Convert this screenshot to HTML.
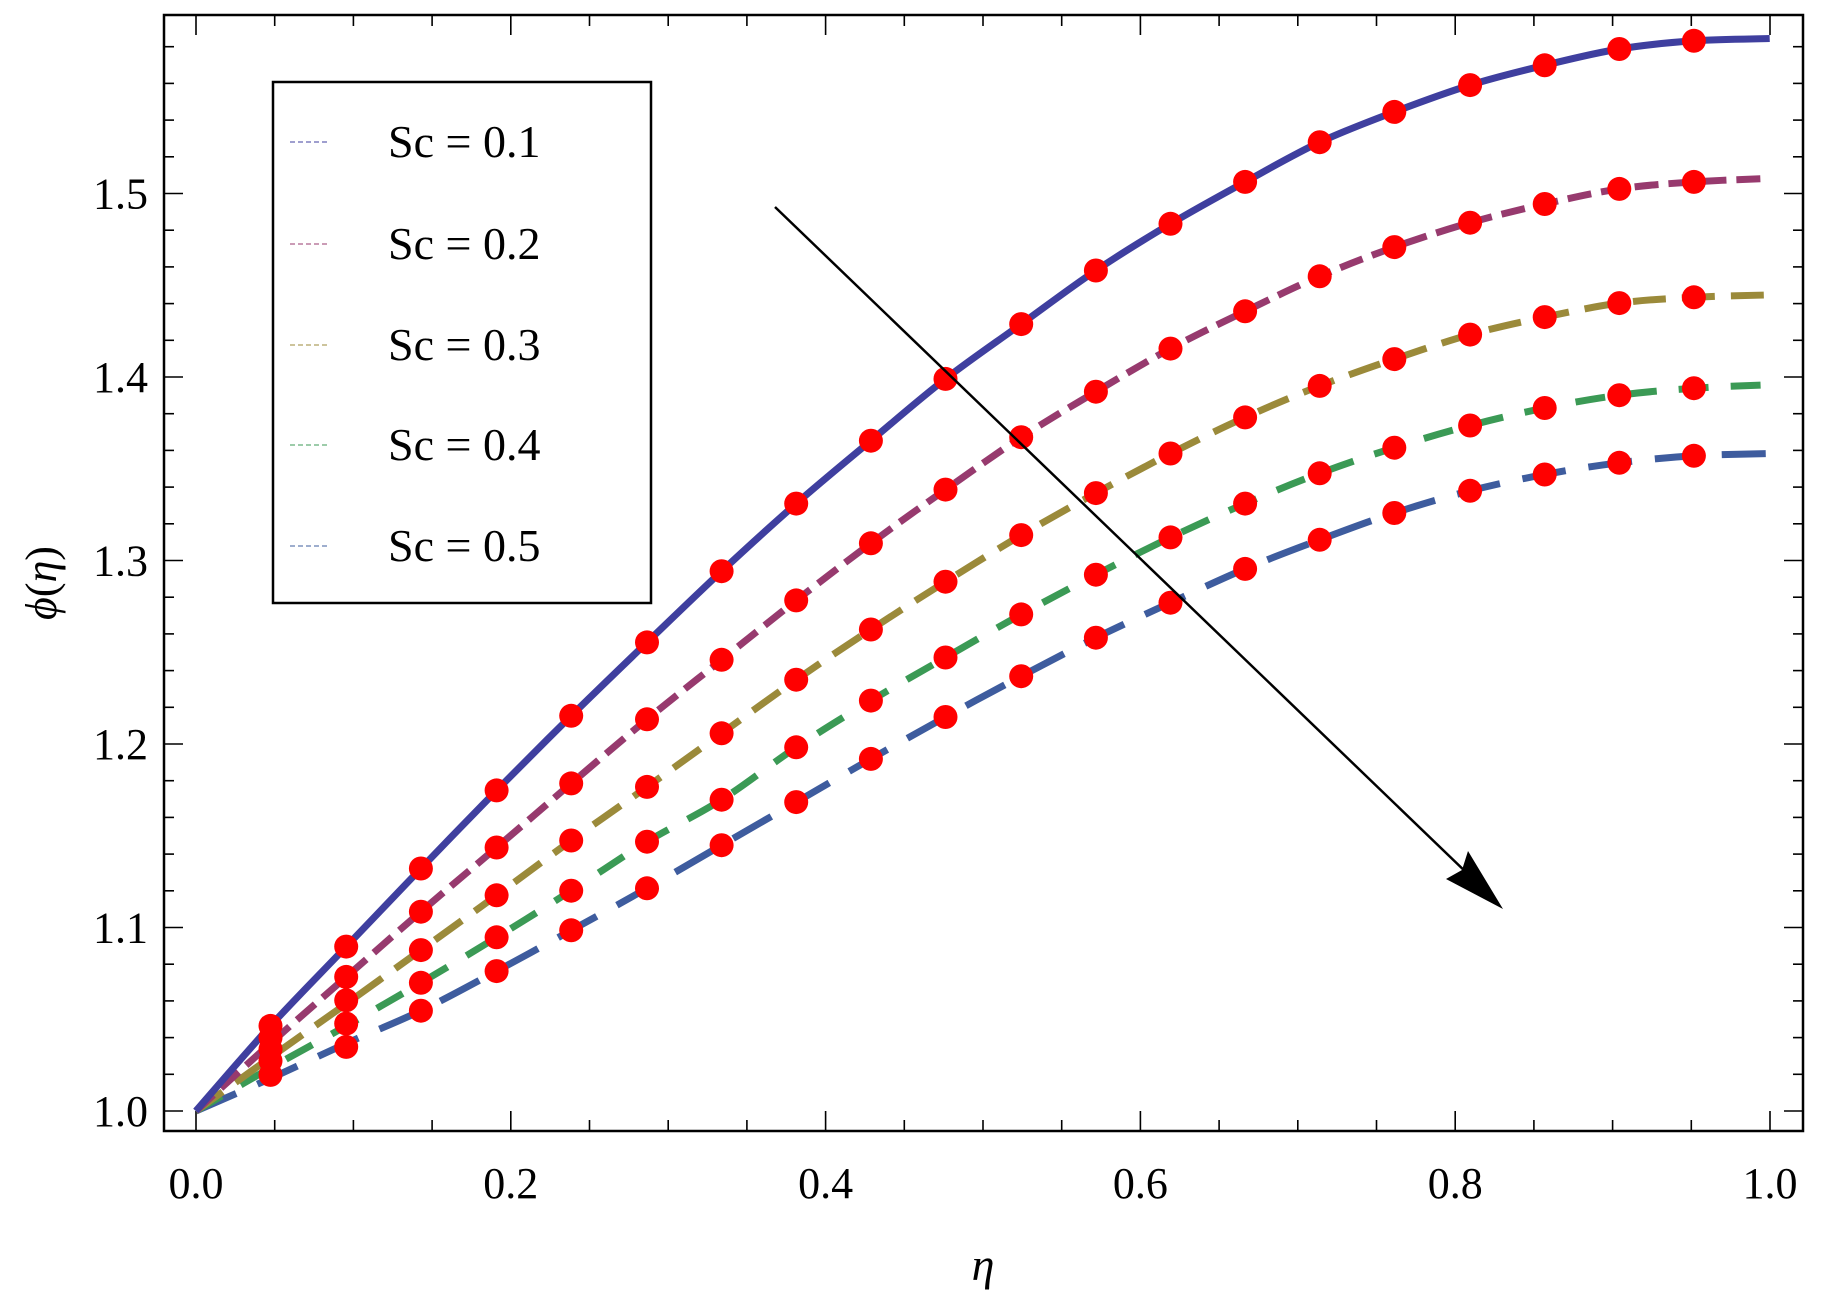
<!DOCTYPE html>
<html><head><meta charset="utf-8"><style>
html,body{margin:0;padding:0;background:#fff;}
svg{display:block;}
text{font-family:"Liberation Serif",serif;fill:#000;}
</style></head><body>
<svg id="s" width="1828" height="1315" viewBox="0 0 1828 1315" xmlns="http://www.w3.org/2000/svg"></svg>
<script>
const s=document.getElementById('s');
const X0=196,XS=1574,Y0=1111,YS=1835,K=1.1658;
const px=e=>X0+e*XS, py=v=>Y0-(v-1)*YS;
let h='';
h+='<rect x="164" y="15" width="1639" height="1116" fill="none" stroke="#000" stroke-width="2.5"/>';
for(let i=0;i<=20;i++){const e=i*0.05,x=px(e),L=(i%4==0)?20:11;
 h+=`<line x1="${x}" y1="1131" x2="${x}" y2="${1131-L}" stroke="#000" stroke-width="1.6"/>`;
 h+=`<line x1="${x}" y1="15" x2="${x}" y2="${15+L}" stroke="#000" stroke-width="1.6"/>`;}
for(let i=0;i<=5;i++){h+=`<text x="${px(i*0.2)}" y="1198" font-size="44" text-anchor="middle">${(i*0.2).toFixed(1)}</text>`;}
for(let i=-1;i<=30;i++){const v=1+i*0.02,y=py(v);if(y<15||y>1131)continue;const L=(i%5==0)?19:10;
 h+=`<line x1="164" y1="${y}" x2="${164+L}" y2="${y}" stroke="#000" stroke-width="1.6"/>`;
 h+=`<line x1="1803" y1="${y}" x2="${1803-L}" y2="${y}" stroke="#000" stroke-width="1.6"/>`;}
for(let i=0;i<=5;i++){h+=`<text x="148" y="${py(1+i*0.1)+15}" font-size="44" text-anchor="end">${(1+i*0.1).toFixed(1)}</text>`;}
h+='<text x="983" y="1280" font-size="46" font-style="italic" text-anchor="middle">η</text>';
h+='<text transform="translate(56,583) rotate(-90)" font-size="44" text-anchor="middle"><tspan font-style="italic">ϕ</tspan>(<tspan font-style="italic">η</tspan>)</text>';
// display-coordinate data (x: 168 + j*64.3), y values, last = end at 1518
const XD=[168,232,297,361,426,490,555,619,683,747,811,876,940,1004,1068,1132,1196,1261,1325,1389,1453,1518];
const Y=[
[953,880,812,745,678,614,551,490,432,378,325,278,232,192,156,122,96,73,56,42,35,33],
[953,895,838,782,727,672,617,566,515,466,420,375,336,299,267,237,212,191,175,162,156,153],
[953,907,861,815,768,721,675,629,583,540,499,459,423,389,358,331,308,287,272,260,255,253],
[953,916,880,843,804,764,722,686,641,601,564,527,493,461,432,406,384,365,350,339,333,330],
[953,925,895,867,833,798,762,725,688,651,615,580,547,517,488,463,440,421,407,397,391,389]];
const DOTS=[[880,812],[890,838],[900,858],[910,878],[922,898]];
const C=['#3f3f9f','#973a6e','#9b8a3a','#3b9a55','#3e5c9e'];
const D=['none','24 10','33 16','30 22','44 23'];
function path(ys){const P=XD.map((x,i)=>[x*K,ys[i]*K]);let d=`M${P[0][0].toFixed(1)} ${P[0][1].toFixed(1)}`;
 for(let i=0;i<P.length-1;i++){const p0=P[Math.max(0,i-1)],p1=P[i],p2=P[i+1],p3=P[Math.min(P.length-1,i+2)];
  const c1=[p1[0]+(p2[0]-p0[0])/6,p1[1]+(p2[1]-p0[1])/6],c2=[p2[0]-(p3[0]-p1[0])/6,p2[1]-(p3[1]-p1[1])/6];
  d+=`C${c1[0].toFixed(1)} ${c1[1].toFixed(1)} ${c2[0].toFixed(1)} ${c2[1].toFixed(1)} ${p2[0].toFixed(1)} ${p2[1].toFixed(1)}`;}
 return d;}
for(let k=4;k>=0;k--){h+=`<path d="${path(Y[k])}" fill="none" stroke="${C[k]}" stroke-width="7" stroke-dasharray="${D[k]}"/>`;}
for(let k=0;k<5;k++){for(let j=1;j<=20;j++){let y=Y[k][j];if(j<=2)y=DOTS[k][j-1];
 h+=`<circle cx="${(XD[j]*K).toFixed(1)}" cy="${(y*K).toFixed(1)}" r="12" fill="#ff0000"/>`;}}
h+='<line x1="775" y1="207" x2="1470" y2="876" stroke="#000" stroke-width="2.5"/>';
h+='<polygon points="1503,909 1468,851 1462,870 1446,879" fill="#000"/>';
h+='<rect x="273" y="82" width="378" height="521" fill="#fff" stroke="#000" stroke-width="2.5"/>';
const ly=[142,244,345,445,546];
for(let k=0;k<5;k++){h+=`<line x1="290" y1="${ly[k]}" x2="329" y2="${ly[k]}" stroke="${C[k]}" stroke-width="1" stroke-dasharray="5 3"/>`;
 h+=`<text x="388" y="${ly[k]+15}" font-size="46">Sc = 0.${k+1}</text>`;}
s.innerHTML=h;
</script>
</body></html>
